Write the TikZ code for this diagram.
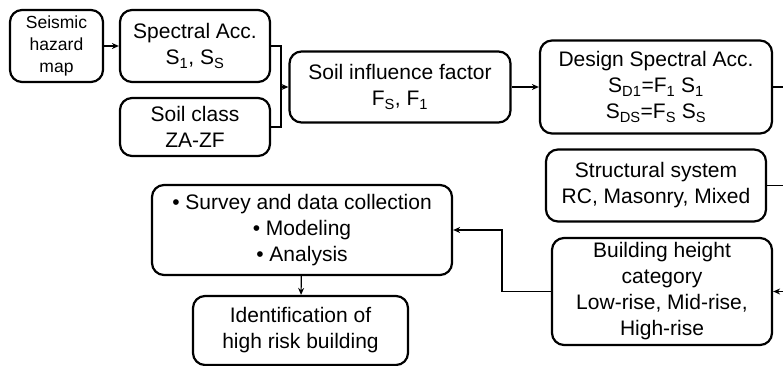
\documentclass[tikz,border=0pt]{standalone}
\usepackage{fontspec}
\setmainfont{Liberation Sans}
\usetikzlibrary{arrows.meta}
\begin{document}
\begin{tikzpicture}[
    x=1pt, y=-1pt,
    box/.style={rectangle, rounded corners=12pt, draw=black, line width=2.2pt, fill=white, align=center, inner sep=2pt, font=\fontsize{21}{26}\selectfont},
    link/.style={line width=1.2pt, color=black},
    arr/.style={-{Stealth[length=7pt,width=6pt]}, line width=1.2pt, color=black}
]
\useasboundingbox (0,0) rectangle (783,366);

% Input boxes
\node[box, minimum width=93, minimum height=72, font=\fontsize{17.5}{22}\selectfont] (haz) at (56.5,46) {Seismic\\hazard\\map};
\node[box, minimum width=150, minimum height=72] (spec) at (195,46) {Spectral Acc.\\S\textsubscript{1}, S\textsubscript{S}};
\node[box, minimum width=150, minimum height=58] (soil) at (195,127) {Soil class\\ZA-ZF};
\node[box, minimum width=221, minimum height=71] (infl) at (400,87) {Soil influence factor\\F\textsubscript{S}, F\textsubscript{1}};
\node[box, minimum width=232, minimum height=93] (dsa) at (656,87) {Design Spectral Acc.\\S\textsubscript{D1}=F\textsubscript{1} S\textsubscript{1}\\S\textsubscript{DS}=F\textsubscript{S} S\textsubscript{S}};

% Building boxes
\node[box, minimum width=220, minimum height=72] (sys) at (656,185.5) {Structural system\\RC, Masonry, Mixed};
\node[box, minimum width=220, minimum height=107] (hgt) at (662,291.5) {Building height\\category\\Low-rise, Mid-rise,\\High-rise};
\node[box, minimum width=300, minimum height=90] (surv) at (302,230) {• Survey and data collection\\• Modeling\\• Analysis};
\node[box, minimum width=215, minimum height=69] (ident) at (300.5,330.5) {Identification of\\high risk building};

% Junction points
\coordinate (bt) at (281,46);
\coordinate (bb) at (281,127);
\coordinate (bm) at (281,87);
\coordinate (r1) at (783,87);
\coordinate (r2) at (783,185.5);
\coordinate (r3) at (783,291.5);
\coordinate (jn) at (502,291.5);

% Connectors
\draw[arr] (haz) -- (spec);
\draw[link] (spec.east) -- (bt) -- (bb) -- (soil.east);
\draw[arr] (bm) -- (infl.west);
\draw[arr] (infl) -- (dsa);
\draw[link] (dsa.east) -- (r1);
\draw[link] (sys.east) -- (r2);
\draw[arr] (r3) -- (hgt.east);
\draw[arr] (hgt.west) -- (jn) |- (surv.east);
\draw[arr] (surv) -- (ident);

\end{tikzpicture}
\end{document}
